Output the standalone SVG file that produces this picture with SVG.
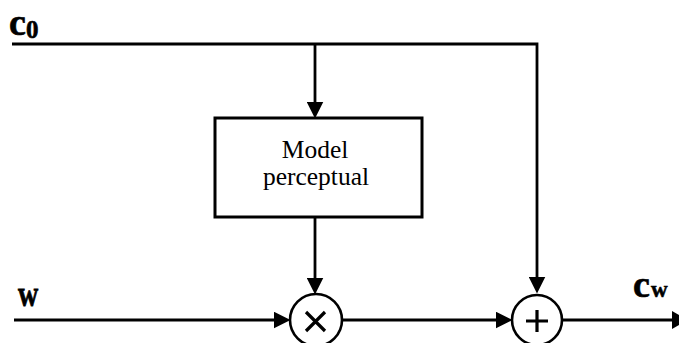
<svg xmlns="http://www.w3.org/2000/svg" width="679" height="343" viewBox="0 0 679 343">
<style>
.ln{fill:none;stroke:#000;stroke-width:2.8}
.box{fill:#fff;stroke:#000;stroke-width:3}
.op{fill:#fff;stroke:#000;stroke-width:2.6}
.sym{stroke:#000;stroke-width:3.2;fill:none}
.lbl{font-family:"Liberation Serif","Times New Roman",serif;font-weight:bold;fill:#000;stroke:#000;stroke-width:0.6}
.txt{font-family:"Liberation Serif","Times New Roman",serif;font-size:25.5px;fill:#000;text-anchor:middle}
</style>
<defs>
<marker id="ah" markerUnits="userSpaceOnUse" markerWidth="17" markerHeight="17" refX="8" refY="8" orient="auto" viewBox="0 0 16 16">
<path d="M0,0 L16,8 L0,16 z" fill="#000"/>
</marker>
</defs>
<g id="connectors">
<path class="ln" d="M12,44 H537 V285" marker-end="url(#ah)"/>
<path class="ln" d="M315,44 V110" marker-end="url(#ah)"/>
<path class="ln" d="M315,217 V286" marker-end="url(#ah)"/>
<path class="ln" d="M14,320 H282" marker-end="url(#ah)"/>
<path class="ln" d="M342,320 H504" marker-end="url(#ah)"/>
<path class="ln" d="M562,320 H674"/>
<polygon points="672,311 688,320 672,329" fill="#000"/>
</g>
<g id="label-c0">
<text class="lbl" x="9" y="35"><tspan font-size="38">c</tspan><tspan font-size="25" dy="3">0</tspan></text>
</g>
<g id="label-w">
<text class="lbl" font-size="28" transform="translate(18,306) scale(1,1.3)">w</text>
</g>
<g id="label-cw">
<text class="lbl" x="633" y="297"><tspan font-size="38">c</tspan><tspan font-size="23" dx="1">w</tspan></text>
</g>
<g id="model">
<rect class="box" x="215" y="118" width="207" height="99"/>
<text class="txt" x="315" y="158">Model</text>
<text class="txt" x="316" y="185">perceptual</text>
</g>
<g id="multiply">
<circle class="op" cx="316" cy="320" r="26"/>
<path class="sym" d="M306,312 L325,331 M325,312 L306,331"/>
</g>
<g id="add">
<circle class="op" cx="537" cy="320" r="25"/>
<path class="sym" d="M526,321 H548 M537,310 V332"/>
</g>
</svg>
